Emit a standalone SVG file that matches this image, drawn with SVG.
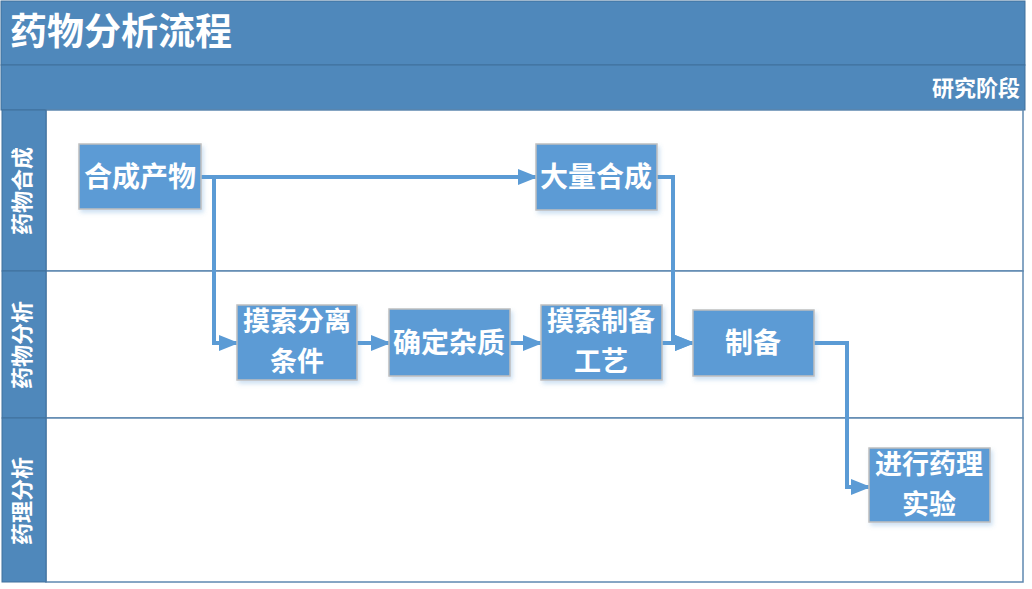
<svg xmlns="http://www.w3.org/2000/svg" width="1032" height="589" viewBox="0 0 1032 589">
<defs>
<filter id="sh" x="-10%" y="-10%" width="130%" height="140%">
<feDropShadow dx="2" dy="3" stdDeviation="2" flood-color="#5B9BD5" flood-opacity="0.3"/>
</filter>
<marker id="ar" markerWidth="5" markerHeight="4" refX="4.5" refY="2" orient="auto" markerUnits="strokeWidth">
<path d="M0,0 L5,2 L0,4 Z" fill="#5B9BD5"/>
</marker>
<style>
.hdr{fill:#4F88BB;stroke:#41719C;stroke-width:1}
.lane{fill:#FFFFFF;stroke:#5E88B0;stroke-width:1.5}
.lbl{fill:#4F88BB;stroke:#41719C;stroke-width:1}
.t{font-family:"Noto Sans CJK SC","Noto Sans",sans-serif;fill:#FFFFFF;font-weight:bold}
.node rect{fill:#5B9BD5;stroke:#BFBFBF;stroke-width:1.5;filter:url(#sh)}
.nt{font-family:"Noto Sans CJK SC","Noto Sans",sans-serif;fill:#FFFFFF;font-weight:bold;font-size:28px;text-anchor:middle}
.nt2{font-size:27px}
.c{fill:none;stroke:#5B9BD5;stroke-width:4;marker-end:url(#ar)}
</style>
</defs>
<g id="frame">
<rect class="hdr" x="1" y="1" width="1024" height="64"/>
<text class="t" x="10" y="45" font-size="37">药物分析流程</text>
<rect class="hdr" x="1" y="65" width="1024" height="45"/>
<text class="t" x="1020" y="96" font-size="22" text-anchor="end">研究阶段</text>
<rect class="lane" x="46" y="110" width="977" height="161"/>
<rect class="lane" x="46" y="271" width="977" height="147"/>
<rect class="lane" x="46" y="418" width="977" height="164"/>
<rect class="lbl" x="2" y="110" width="44" height="161"/>
<rect class="lbl" x="2" y="271" width="44" height="147"/>
<rect class="lbl" x="2" y="418" width="44" height="164"/>
<text class="t" font-size="22" text-anchor="middle" transform="translate(30,191) rotate(-90)">药物合成</text>
<text class="t" font-size="22" text-anchor="middle" transform="translate(30,345) rotate(-90)">药物分析</text>
<text class="t" font-size="22" text-anchor="middle" transform="translate(30,501) rotate(-90)">药理分析</text>
</g>
<g id="connectors">
<path class="c" d="M201,177 L536,177"/>
<path class="c" d="M214,177 L214,343 L237,343"/>
<path class="c" d="M357,343 L389,343"/>
<path class="c" d="M510,343 L541,343"/>
<path class="c" d="M662,343 L693,343"/>
<path class="c" d="M657,177 L673,177 L673,343 L693,343"/>
<path class="c" d="M814,343 L847,343 L847,487 L869,487"/>
</g>
<g id="n1" class="node"><rect x="79" y="144" width="122" height="65"/><text class="nt" x="140" y="187">合成产物</text></g>
<g id="n2" class="node"><rect x="536" y="144" width="121" height="66"/><text class="nt" x="596" y="187">大量合成</text></g>
<g id="n3" class="node"><rect x="237" y="305" width="120" height="75"/><text class="nt nt2" x="297" y="331">摸索分离</text><text class="nt nt2" x="297" y="370.5">条件</text></g>
<g id="n4" class="node"><rect x="389" y="309" width="121" height="67"/><text class="nt" x="449" y="353">确定杂质</text></g>
<g id="n5" class="node"><rect x="541" y="305" width="121" height="75"/><text class="nt nt2" x="601" y="331">摸索制备</text><text class="nt nt2" x="601" y="370.5">工艺</text></g>
<g id="n6" class="node"><rect x="693" y="310" width="121" height="66"/><text class="nt" x="753" y="353">制备</text></g>
<g id="n7" class="node"><rect x="869" y="448" width="121" height="74"/><text class="nt nt2" x="929" y="474">进行药理</text><text class="nt nt2" x="929" y="513.5">实验</text></g>
</svg>
